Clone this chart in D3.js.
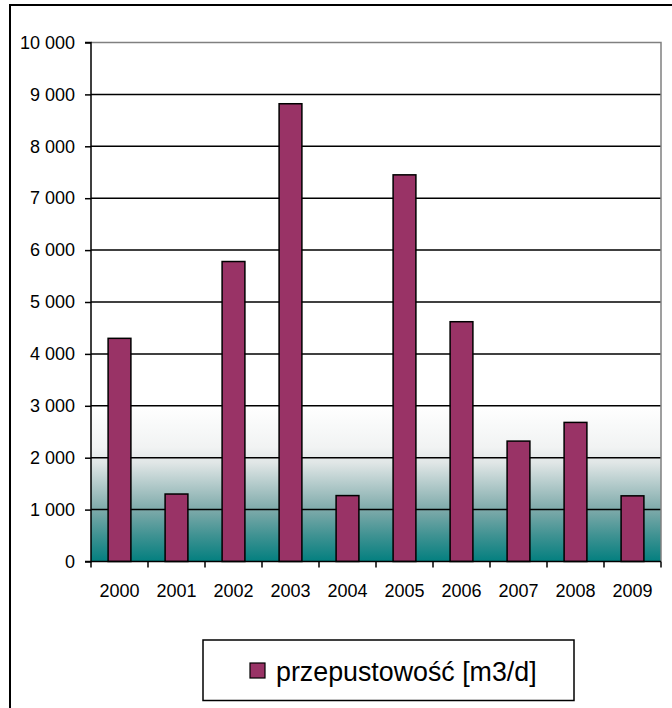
<!DOCTYPE html>
<html>
<head>
<meta charset="utf-8">
<script src="https://cdn.jsdelivr.net/npm/d3@7"></script>
<style>
  html, body { margin: 0; padding: 0; background: #fff; }
  svg { display: block; font-family: "Liberation Sans", Arial, sans-serif; }
</style>
</head>
<body>
<svg id="chart" width="672" height="708"></svg>
<script>
const years = ["2000","2001","2002","2003","2004","2005","2006","2007","2008","2009"];
const values = [4300, 1300, 5780, 8820, 1270, 7450, 4620, 2320, 2680, 1265];
const yTicks = [0,1000,2000,3000,4000,5000,6000,7000,8000,9000,10000];
const seriesName = "przepustowość [m3/d]";

const svg = d3.select("#chart");
const plot = {left: 91, right: 661, top: 42.5, bottom: 561.5};

const locale = d3.formatLocale({decimal: ",", thousands: " ", grouping: [3], currency: ["", ""]});
const fmt = locale.format(",d");

const x = d3.scaleBand().domain(years).range([plot.left, plot.right]).paddingInner(0.6).paddingOuter(0.3);
const y = d3.scaleLinear().domain([0, 10000]).range([plot.bottom, plot.top]);

// outer frame (extends beyond view)
svg.append("rect").attr("x", 10).attr("y", 5).attr("width", 720).attr("height", 760)
  .attr("fill", "#fff").attr("stroke", "#000").attr("stroke-width", 2);

// gradient background
const defs = svg.append("defs");
const grad = defs.append("linearGradient").attr("id", "bg").attr("x1", 0).attr("y1", 0).attr("x2", 0).attr("y2", 1);
[["0","#ffffff"],["0.70","#ffffff"],["0.78","#f1f3f3"],["0.81","#e0e6e6"],["0.90","#7eaaaa"],["0.95","#3f9292"],["1","#037f7f"]]
  .forEach(([o,c]) => grad.append("stop").attr("offset", o).attr("stop-color", c));

svg.append("rect").attr("x", plot.left).attr("y", plot.top)
  .attr("width", plot.right - plot.left).attr("height", plot.bottom - plot.top)
  .attr("fill", "url(#bg)");

// gridlines
svg.append("g").selectAll("line").data(yTicks.filter(d => d > 0 && d < 10000)).join("line")
  .attr("x1", plot.left).attr("x2", plot.right)
  .attr("y1", d => y(d)).attr("y2", d => y(d))
  .attr("stroke", "#000").attr("stroke-width", 1.5);

// plot border (top/right grey)
svg.append("path")
  .attr("d", `M${plot.left},${plot.top}H${plot.right}V${plot.bottom}`)
  .attr("fill", "none").attr("stroke", "#808080").attr("stroke-width", 1.5);

// bars
svg.append("g").selectAll("rect").data(years).join("rect")
  .attr("x", d => x(d))
  .attr("y", (d, i) => y(values[i]))
  .attr("width", x.bandwidth())
  .attr("height", (d, i) => y(0) - y(values[i]))
  .attr("fill", "#993366").attr("stroke", "#000").attr("stroke-width", 1.5);

// y axis
const yAxis = d3.axisLeft(y).tickValues(yTicks).tickFormat(fmt).tickSize(6).tickPadding(10);
const gy = svg.append("g").attr("transform", `translate(${plot.left},0)`).call(yAxis);
gy.select(".domain").attr("stroke", "#000").attr("stroke-width", 1.5).attr("d", `M-6,${plot.top}H0V${plot.bottom}H-6`);
gy.selectAll(".tick line").attr("stroke", "#000").attr("stroke-width", 1.5);
gy.selectAll(".tick text").attr("font-size", 18).attr("fill", "#000").attr("font-family", "Liberation Sans, Arial, sans-serif");

// x axis
const step = x.step();
const boundaries = d3.range(years.length + 1).map(i => plot.left + i * step);
const gx = svg.append("g");
gx.append("line").attr("x1", plot.left).attr("x2", plot.right).attr("y1", plot.bottom).attr("y2", plot.bottom)
  .attr("stroke", "#000").attr("stroke-width", 1.5);
gx.selectAll("line.tk").data(boundaries).join("line").attr("class", "tk")
  .attr("x1", d => d).attr("x2", d => d).attr("y1", plot.bottom).attr("y2", plot.bottom + 6)
  .attr("stroke", "#000").attr("stroke-width", 1.5);
gx.selectAll("text").data(years).join("text")
  .attr("x", d => x(d) + x.bandwidth() / 2).attr("y", plot.bottom + 35)
  .attr("text-anchor", "middle").attr("font-size", 18).attr("fill", "#000").text(d => d);

// legend
const lg = svg.append("g");
lg.append("rect").attr("x", 203).attr("y", 640).attr("width", 371).attr("height", 60.5)
  .attr("fill", "#fff").attr("stroke", "#000").attr("stroke-width", 1.5);
lg.append("rect").attr("x", 250).attr("y", 663).attr("width", 15).attr("height", 15)
  .attr("fill", "#993366").attr("stroke", "#000").attr("stroke-width", 1.2);
lg.append("text").attr("x", 276).attr("y", 681).attr("font-size", 26.8).attr("fill", "#000").text(seriesName);
</script>
</body>
</html>
